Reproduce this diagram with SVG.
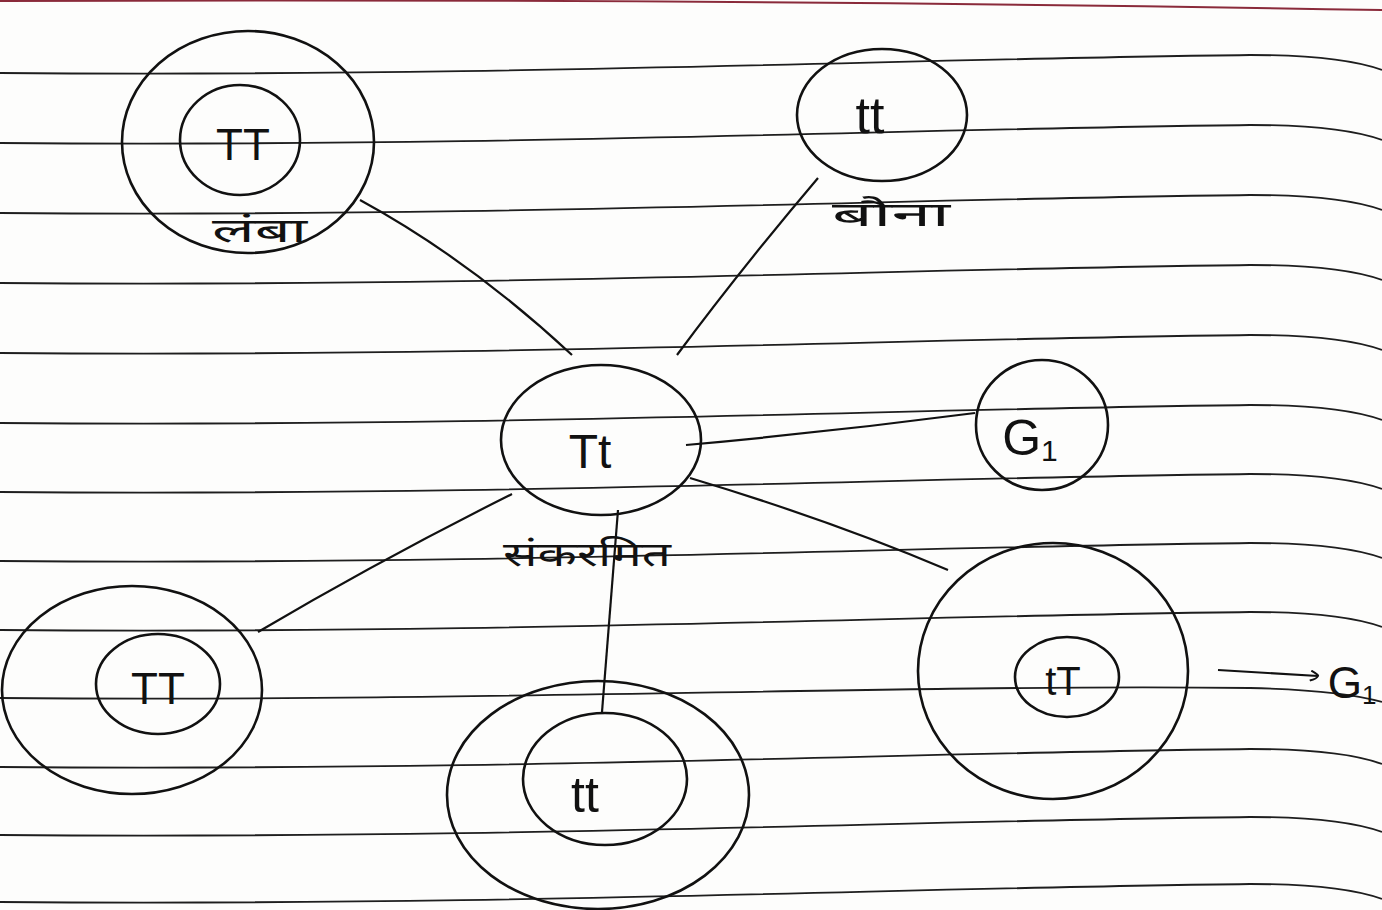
<svg xmlns="http://www.w3.org/2000/svg" width="1382" height="910" viewBox="0 0 1382 910">
<style>
.rule{fill:none;stroke:#1e1e1e;stroke-width:1.8}
.ring{fill:none;stroke:#111;stroke-width:2.6}
.edge{fill:none;stroke:#111;stroke-width:2.2}
.lbl{font-family:"Liberation Sans","Noto Sans",sans-serif;fill:#111}
.hi{font-family:"Noto Sans Devanagari","Lohit Devanagari","Noto Sans","FreeSans",sans-serif;fill:#111;font-size:34px}
</style>
<defs>
<marker id="open" viewBox="0 0 12 12" refX="10" refY="6" markerWidth="12" markerHeight="12" markerUnits="userSpaceOnUse" orient="auto">
<path d="M3,1 Q11,5 10,6 Q9,9 2,11" fill="none" stroke="#111" stroke-width="2"/>
</marker>
</defs>
<rect width="1382" height="910" fill="#fdfdfc"/>
<g id="paper">
<path d="M0,1 Q700,-2 1382,10" fill="none" stroke="#8a2a3a" stroke-width="2"/>
<path class="rule" d="M0,73 C500,77 900,59 1250,55 Q1340,55 1382,70"/>
<path class="rule" d="M0,143 C500,147 900,129 1250,125 Q1340,125 1382,140"/>
<path class="rule" d="M0,213 C500,217 900,199 1250,195 Q1340,195 1382,210"/>
<path class="rule" d="M0,283 C500,287 900,269 1250,265 Q1340,265 1382,280"/>
<path class="rule" d="M0,353 C500,357 900,339 1250,335 Q1340,335 1382,350"/>
<path class="rule" d="M0,423 C500,427 900,409 1250,405 Q1340,405 1382,420"/>
<path class="rule" d="M0,492 C500,496 900,478 1250,474 Q1340,474 1382,489"/>
<path class="rule" d="M0,561 C500,565 900,547 1250,543 Q1340,543 1382,558"/>
<path class="rule" d="M0,630 C500,634 900,616 1250,612 Q1340,612 1382,627"/>
<path class="rule" d="M0,698 C500,702 900,684 1250,688 Q1340,690 1382,702"/>
<path class="rule" d="M0,767 C500,771 900,753 1250,749 Q1340,749 1382,764"/>
<path class="rule" d="M0,835 C500,839 900,821 1250,817 Q1340,817 1382,832"/>
<path class="rule" d="M0,902 C500,906 900,888 1250,884 Q1340,884 1382,899"/>
</g>
<g id="connectors">
<path class="edge" d="M360,200 Q470,260 572,355"/>
<path class="edge" d="M818,178 Q740,270 677,355"/>
<path class="edge" d="M686,445 Q830,432 975,413"/>
<path class="edge" d="M512,494 Q380,560 258,632"/>
<path class="edge" d="M618,510 L602,712"/>
<path class="edge" d="M690,478 Q830,520 948,570"/>
<path class="edge" d="M1218,670 L1318,676" marker-end="url(#open)"/>
</g>
<g id="node-TT-top">
<ellipse class="ring" cx="248" cy="142" rx="126" ry="111"/>
<ellipse class="ring" cx="240" cy="140" rx="60" ry="55"/>
<text class="lbl" x="243" y="160" font-size="44" text-anchor="middle">TT</text>
<text class="hi" x="212" y="242" textLength="95" lengthAdjust="spacingAndGlyphs">लंबा</text>
</g>
<g id="node-tt-top">
<ellipse class="ring" cx="882" cy="115" rx="85" ry="66"/>
<text class="lbl" x="870" y="133" font-size="52" text-anchor="middle">tt</text>
<text class="hi" x="832" y="226" textLength="118" lengthAdjust="spacingAndGlyphs">बौना</text>
</g>
<g id="node-Tt">
<ellipse class="ring" cx="601" cy="440" rx="100" ry="75"/>
<text class="lbl" x="590" y="468" font-size="48" text-anchor="middle">Tt</text>
<text class="hi" x="503" y="566" textLength="168" lengthAdjust="spacingAndGlyphs">संकरमित</text>
</g>
<g id="node-G1">
<ellipse class="ring" cx="1042" cy="425" rx="66" ry="65"/>
<text class="lbl" x="1030" y="455" font-size="50" text-anchor="middle">G<tspan font-size="30" dy="6">1</tspan></text>
</g>
<g id="node-TT-bottom">
<ellipse class="ring" cx="132" cy="690" rx="130" ry="104"/>
<ellipse class="ring" cx="158" cy="684" rx="62" ry="50"/>
<text class="lbl" x="158" y="704" font-size="44" text-anchor="middle">TT</text>
</g>
<g id="node-tt-bottom">
<ellipse class="ring" cx="598" cy="795" rx="151" ry="114"/>
<ellipse class="ring" cx="605" cy="779" rx="82" ry="66"/>
<text class="lbl" x="585" y="812" font-size="50" text-anchor="middle">tt</text>
</g>
<g id="node-tT">
<ellipse class="ring" cx="1053" cy="671" rx="135" ry="128"/>
<ellipse class="ring" cx="1067" cy="677" rx="52" ry="40"/>
<text class="lbl" x="1063" y="695" font-size="40" text-anchor="middle">tT</text>
</g>
<g id="label-G1-right">
<text class="lbl" x="1352" y="698" font-size="44" text-anchor="middle">G<tspan font-size="26" dy="6">1</tspan></text>
</g>
</svg>
